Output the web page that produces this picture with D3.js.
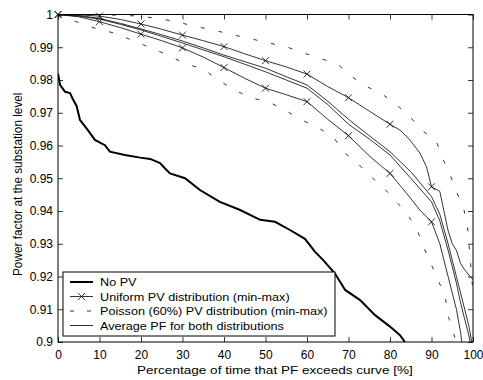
<!DOCTYPE html>
<html>
<head>
<meta charset="utf-8">
<script src="https://cdn.jsdelivr.net/npm/d3@7"></script>
<style>
  body { margin: 0; background: #fff; }
  svg text { font-family: "Liberation Sans", Arial, sans-serif; fill: #000; }
</style>
</head>
<body>
<div id="chart"></div>
<script>
// ----------------------------------------------------------------------------
// data: [percentage of time, power factor]
// ----------------------------------------------------------------------------

const noPV = [[0,0.982],[0.5,0.9785],[1.7,0.9764],[2.9,0.976],[3.6,0.9741],[4.5,0.972],[5.3,0.9678],
  [7.2,0.9647],[8.9,0.9617],[11.3,0.9601],[12.5,0.9581],[16.1,0.9571],[19.8,0.9563],[22.2,0.9559],
  [24.6,0.9546],[25.8,0.953],[27,0.9515],[30.6,0.95],[34.2,0.9464],[39,0.9428],[43.9,0.9403],
  [48.7,0.9373],[52.3,0.9367],[55.9,0.9342],[59.5,0.9315],[61.9,0.9276],[63.9,0.925],[66.7,0.921],
  [69.2,0.9159],[72.8,0.9128],[76.4,0.9082],[80,0.9047],[82.4,0.9021],[83.6,0.9]];

const uniformMax = [[0,1],[5,0.9999],[10,0.9995],[15,0.9985],[20,0.9971],[25,0.9955],[30,0.9937],
  [35,0.992],[40,0.9902],[45,0.988],[50,0.9859],[55,0.984],[60,0.9818],[65,0.978],[70,0.9746],
  [75,0.9705],[80,0.9665],[82.4,0.9647],[84.8,0.9617],[87.2,0.9577],[88.8,0.9535],[90,0.9474],
  [92,0.946],[93,0.94],[94,0.934],[95,0.93],[96,0.928],[97,0.924],[98,0.922],[100,0.919]];

const uniformMin = [[0,1],[5,0.9993],[10,0.9978],[15,0.996],[20,0.994],[25,0.992],[30,0.9898],
  [35,0.987],[40,0.9838],[45,0.9805],[50,0.9775],[55,0.9755],[60,0.9734],[65,0.968],[70,0.963],
  [75.2,0.9566],[80,0.9515],[84,0.9454],[87.2,0.9403],[90,0.9367],[92,0.93],[94,0.92],[95,0.915],
  [96,0.91],[97,0.903],[97.3,0.9]];

const avgUniform = [[0,1],[5,0.9997],[10,0.9988],[15,0.9973],[20,0.9956],[25,0.9938],[30,0.9919],
  [35,0.9898],[40,0.9876],[45,0.9856],[50,0.9836],[55,0.981],[60,0.9785],[65,0.9735],[70,0.968],
  [75,0.963],[80,0.9581],[85,0.952],[90,0.9444],[92,0.939],[94,0.93],[96,0.92],[97,0.915],
  [98,0.91],[99,0.905],[99.7,0.9]];

const avgPoisson = [[0,1],[5,0.9995],[10,0.9986],[15,0.997],[20,0.9953],[25,0.9933],[30,0.9913],
  [35,0.9892],[40,0.9871],[45,0.9848],[50,0.9825],[55,0.98],[60,0.9775],[65,0.9725],[70,0.9665],
  [75,0.962],[80,0.9571],[85,0.95],[90,0.9428],[92,0.937],[94,0.928],[96,0.918],[97,0.912],
  [98,0.907],[99,0.902],[99.3,0.9]];

const poissonMax = [[0,1],[10,1],[20,0.9995],[23.8,0.9988],[28.6,0.9978],[32.5,0.9965],[37.3,0.9953],
  [41.4,0.994],[46.1,0.9927],[50.4,0.9914],[54.9,0.9902],[59.1,0.9883],[63.1,0.9866],[67.1,0.9851],
  [70.8,0.981],[74.4,0.978],[78.1,0.9757],[81.6,0.9724],[84.8,0.9688],[87.6,0.9647],[91.1,0.9615],
  [92.8,0.9558],[94.5,0.951],[96.1,0.9456],[97.8,0.9405],[98.7,0.935],[100,0.915]];

const poissonMin = [[0,1],[5,0.9975],[9.4,0.9956],[13.7,0.9943],[18.1,0.992],[22.2,0.9899],
  [26.5,0.9876],[30.6,0.985],[34.9,0.9834],[38.6,0.98],[42.2,0.9772],[46.3,0.9746],[50.6,0.9734],
  [54.7,0.9708],[58.7,0.9678],[62.3,0.9657],[66.3,0.9627],[68.9,0.9579],[72.1,0.9547],[75.2,0.9507],
  [78.4,0.9472],[81,0.9436],[83.9,0.9395],[86.4,0.9347],[88,0.9293],[91.6,0.9189],[93.3,0.9138],
  [94.1,0.9077],[95.3,0.9027],[96,0.9]];

const markerPcts = [0, 10, 20, 30, 40, 50, 60, 70, 80, 90];
const xTicks = [0, 10, 20, 30, 40, 50, 60, 70, 80, 90, 100];
const yTicks = [0.9, 0.91, 0.92, 0.93, 0.94, 0.95, 0.96, 0.97, 0.98, 0.99, 1];

const legendLabels = ['No PV', 'Uniform PV distribution (min-max)',
  'Poisson (60%) PV distribution (min-max)', 'Average PF for both distributions'];

// ----------------------------------------------------------------------------
// layout
// ----------------------------------------------------------------------------

const W = 483, H = 380;
const m = {l: 58, t: 14.5, r: 10, b: 38};
const w = W - m.l - m.r, h = H - m.t - m.b;
// the source figure's text is a bit wider than it is tall
const stretch = 1.15;

const svg = d3.select('#chart').append('svg').attr('width', W).attr('height', H);

svg.append('defs').append('clipPath').attr('id', 'clip')
  .append('rect').attr('width', w).attr('height', h);

const g = svg.append('g').attr('transform', `translate(${m.l},${m.t})`);

const xScale = d3.scaleLinear().domain([0, 100]).range([0, w]);
const yScale = d3.scaleLinear().domain([0.9, 1]).range([h, 0]);

// ----------------------------------------------------------------------------
// axes (ticks inside, on all four sides)

const fmt = d => String(+d.toFixed(2));

g.append('g').attr('transform', `translate(0,${h})`)
  .call(d3.axisBottom(xScale).tickValues(xTicks).tickSizeInner(-5).tickSizeOuter(0).tickPadding(8).tickFormat(fmt));
g.append('g')
  .call(d3.axisLeft(yScale).tickValues(yTicks).tickSizeInner(-5).tickSizeOuter(0).tickPadding(5).tickFormat(fmt));
g.append('g')
  .call(d3.axisTop(xScale).tickValues(xTicks).tickSizeInner(-5).tickSizeOuter(0).tickFormat(''));
g.append('g').attr('transform', `translate(${w},0)`)
  .call(d3.axisRight(yScale).tickValues(yTicks).tickSizeInner(-5).tickSizeOuter(0).tickFormat(''));

g.selectAll('.domain').remove();
g.selectAll('.tick line').attr('stroke', '#000').attr('stroke-width', 0.8);
g.selectAll('.tick text').style('font-size', '12px');

g.append('rect').attr('width', w).attr('height', h)
  .attr('fill', 'none').attr('stroke', '#000').attr('stroke-width', 1);

svg.append('text')
  .attr('transform', `translate(137,374) scale(${stretch},1)`)
  .style('font-size', '11.8px')
  .text('Percentage of time that PF exceeds curve [%]');

svg.append('text')
  .attr('transform', `translate(22,276) rotate(-90) scale(1,${stretch})`)
  .style('font-size', '11.8px')
  .text('Power factor at the substation level');

// ----------------------------------------------------------------------------
// lines

const plot = g.append('g').attr('clip-path', 'url(#clip)');

const valueline = d3.line()
  .x(d => xScale(d[0]))
  .y(d => yScale(d[1]));

const drawLine = (arr, width, dash) => {
  plot.append('path')
    .attr('d', valueline(arr))
    .attr('fill', 'none')
    .attr('stroke', '#000')
    .attr('stroke-width', width)
    .attr('stroke-dasharray', dash || null);
};

drawLine(poissonMax, 0.8, '4,14');
drawLine(poissonMin, 0.8, '4,14');
drawLine(avgUniform, 0.8);
drawLine(avgPoisson, 0.8);
drawLine(uniformMax, 0.8);
drawLine(uniformMin, 0.8);
drawLine(noPV, 2);

const xMark = (sel, cx, cy) => {
  const s = 3.5;
  sel.append('path')
    .attr('d', `M${cx - s},${cy - s}L${cx + s},${cy + s}M${cx - s},${cy + s}L${cx + s},${cy - s}`)
    .attr('stroke', '#000').attr('stroke-width', 0.8).attr('fill', 'none');
};

[uniformMax, uniformMin].forEach(arr => {
  markerPcts.forEach(p => {
    const pt = arr.find(d => d[0] === p);
    if (pt) xMark(g, xScale(pt[0]), yScale(pt[1]));
  });
});

// ----------------------------------------------------------------------------
// legend

const lg = g.append('g').attr('transform', 'translate(5,257.5)');
lg.append('rect').attr('width', 272).attr('height', 64)
  .attr('fill', '#fff').attr('stroke', '#000').attr('stroke-width', 1);

legendLabels.forEach((lab, i) => {
  const y = 10 + i * 14.5;
  const ln = lg.append('line').attr('x1', 7).attr('x2', 30).attr('y1', y).attr('y2', y)
    .attr('stroke', '#000');
  if (i === 0) ln.attr('stroke-width', 2);
  else ln.attr('stroke-width', 0.8);
  if (i === 2) ln.attr('stroke-dasharray', '4,13');
  if (i === 1) xMark(lg, 18.5, y);
  lg.append('text')
    .attr('transform', `translate(37,${y + 4}) scale(${stretch},1)`)
    .style('font-size', '11px').text(lab);
});
</script>
</body>
</html>
